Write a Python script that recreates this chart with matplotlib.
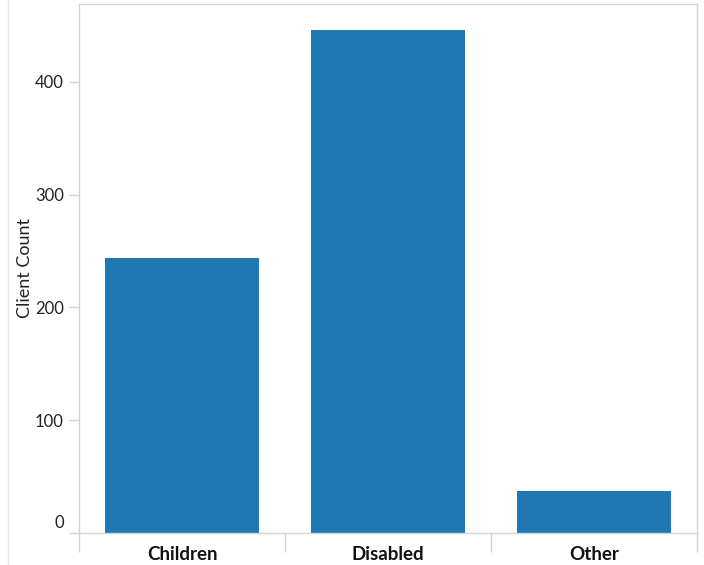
import matplotlib
matplotlib.use("Agg")
import matplotlib.pyplot as plt
from matplotlib.lines import Line2D
from matplotlib.transforms import ScaledTranslation

categories = ["Children", "Disabled", "Other"]
client_count = [244, 446, 37]
y_ticks = [0, 100, 200, 300, 400]

plt.rcParams['font.family'] = ['Lato', 'DejaVu Sans']

fig = plt.figure(figsize=(7.04, 5.65), dpi=100)
ax = fig.add_axes([79/704, 32/565, 618/704, 529/565])

x = list(range(len(categories)))
ax.bar(x, client_count, width=0.75, color="#1f77b4", zorder=2)

ax.set_xlim(-0.5, 2.5)
ax.set_ylim(0, 469)

ax.set_yticks(y_ticks)
ax.set_yticklabels([str(v) for v in y_ticks], fontsize=12, color="#222222")
ax.tick_params(axis='y', length=7, width=1, color="#d4d4d4", pad=4)
for lbl in ax.get_yticklabels():
    if lbl.get_text() == "0":
        lbl.set_transform(lbl.get_transform() + ScaledTranslation(0, 8/72, fig.dpi_scale_trans))

ax.set_xticks(x)
ax.set_xticklabels(categories, fontsize=13.5, fontweight='bold', color="#111111")
ax.tick_params(axis='x', length=0, pad=9.5)
ax.set_xticks([-0.5, 0.5, 1.5, 2.5], minor=True)
ax.tick_params(axis='x', which='minor', length=14, width=1, color="#d4d4d4", direction='out')

ax.set_ylabel("Client Count", fontsize=13, color="#222222", labelpad=1)

for s in ["top", "right", "left", "bottom"]:
    ax.spines[s].set_color("#d4d4d4")
    ax.spines[s].set_linewidth(1)

# faint screenshot edge line at left
fig.add_artist(Line2D([8/704, 8/704], [0, 1], color="#e6e6e6", lw=1))

fig.savefig("out.png", dpi=100)
